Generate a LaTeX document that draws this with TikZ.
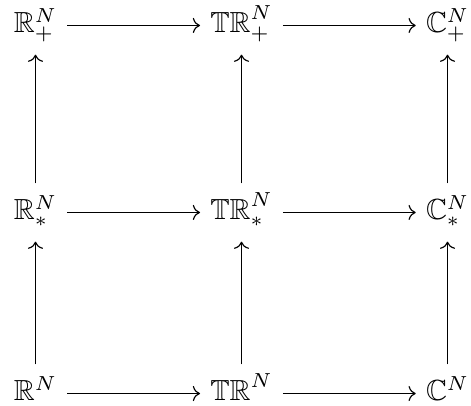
\documentclass[tikz,border=0pt]{standalone}
\usepackage{amsmath,amssymb}
\usepackage{tikz}
\usetikzlibrary{arrows.meta}
\tikzset{
  sp/.style={anchor=base,inner sep=0.333em,text height=9pt,text depth=4pt},
  map/.style={draw=black,line width=0.4pt,-{To}},
}

\begin{document}
\begin{tikzpicture}
\useasboundingbox (0,0) rectangle (5.695,4.909);
\coordinate (pa) at (0.429,4.513);
\coordinate (pb) at (2.920,4.513);
\coordinate (pc) at (5.411,4.513);
\coordinate (pd) at (0.429,2.252);
\coordinate (pe) at (2.920,2.252);
\coordinate (pf) at (5.411,2.252);
\coordinate (pg) at (0.429,0.063);
\coordinate (ph) at (2.920,0.063);
\coordinate (pi) at (5.411,0.063);
\node[sp] (rp) at (pa) {$\mathbb{R}^N_+$};
\node[sp] (trp) at (pb) {$\mathbb{TR}^N_+$};
\node[sp] (cp) at (pc) {$\mathbb{C}^N_+$};
\node[sp] (rs) at (pd) {$\mathbb{R}^N_*$};
\node[sp] (trs) at (pe) {$\mathbb{TR}^N_*$};
\node[sp] (cs) at (pf) {$\mathbb{C}^N_*$};
\node[sp] (r) at (pg) {$\mathbb{R}^N$};
\node[sp] (tr) at (ph) {$\mathbb{TR}^N$};
\node[sp] (c) at (pi) {$\mathbb{C}^N$};
\draw[map] (rp) -- (trp);
\draw[map] (trp) -- (cp);
\draw[map] (rs) -- (trs);
\draw[map] (trs) -- (cs);
\draw[map] (r) -- (tr);
\draw[map] (tr) -- (c);
\draw[map] (rs) -- (rp);
\draw[map] (trs) -- (trp);
\draw[map] (cs) -- (cp);
\draw[map] (r) -- (rs);
\draw[map] (tr) -- (trs);
\draw[map] (c) -- (cs);
\end{tikzpicture}
\end{document}
